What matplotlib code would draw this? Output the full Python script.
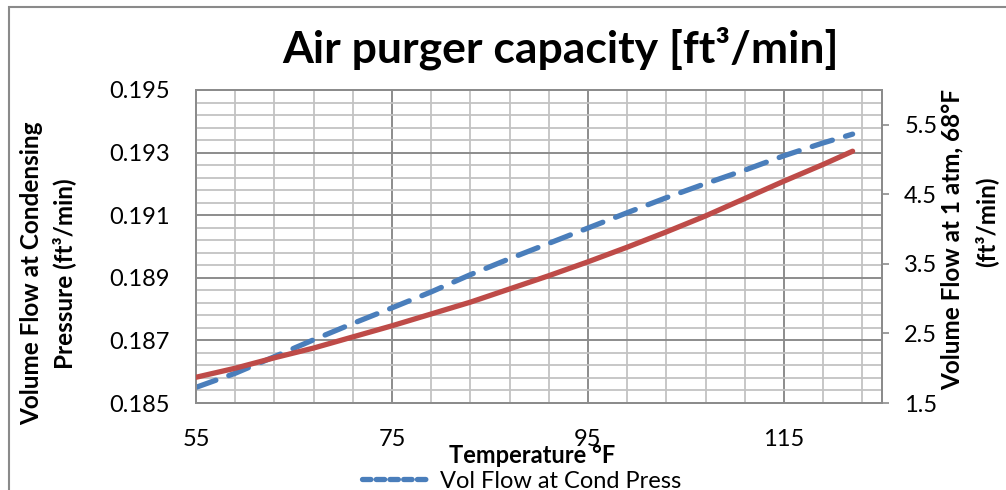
import matplotlib
matplotlib.use("Agg")
import matplotlib.pyplot as plt
from matplotlib.lines import Line2D
from matplotlib.patches import Rectangle

plt.rcParams["font.family"] = ["Lato", "DejaVu Sans"]

# data
temps = [55, 59, 63, 67, 71, 75, 79, 83, 87, 91, 95, 99, 103, 107, 111, 115, 119, 122]
cond_flow = [0.18550, 0.18595, 0.18648, 0.18702, 0.18754, 0.18804, 0.18855, 0.18910,
             0.18961, 0.19010, 0.19059, 0.19108, 0.19156, 0.19201, 0.19244, 0.19290,
             0.19331, 0.19359]
atm_flow = [1.87, 2.00, 2.15, 2.29, 2.45, 2.61, 2.78, 2.95, 3.14, 3.33, 3.53, 3.74,
            3.96, 4.19, 4.44, 4.69, 4.93, 5.12]

x_ticks = [55, 75, 95, 115]
left_ticks = [0.185, 0.187, 0.189, 0.191, 0.193, 0.195]
right_ticks = [1.5, 2.5, 3.5, 4.5, 5.5]

BLUE = "#4a7ebb"
RED = "#be4b48"
MAJOR = "#8c8c8c"
MINOR = "#c3c3c3"

fig = plt.figure(figsize=(10.06, 4.9), dpi=100)
W, H = 1006, 490

# outer chart border (cut off at right/bottom)
fig.patches.append(Rectangle((9 / W, -0.1), 1.2, (490 - 7) / H + 0.1,
                             transform=fig.transFigure, fill=False,
                             edgecolor="#8a8a8a", lw=1.5))

ax = fig.add_axes([196 / W, (490 - 403) / H, (882 - 196) / W, (403 - 90) / H])
ax.set_xlim(55, 125)
ax.set_ylim(0.185, 0.195)

ax.set_xticks(x_ticks)
ax.set_xticks(range(55, 126, 4), minor=True)
ax.set_yticks(left_ticks)
ax.set_yticks([0.185 + 0.0004 * i for i in range(26)], minor=True)
ax.set_yticklabels([f"{v:.3f}" for v in left_ticks])

ax.grid(which="minor", color=MINOR, lw=1.3, zorder=0)
ax.grid(which="major", color=MAJOR, lw=1.4, zorder=0)
ax.set_axisbelow(True)
ax.tick_params(which="both", length=0)
ax.tick_params(axis="x", pad=19, labelsize=17)
ax.tick_params(axis="y", pad=19, labelsize=17)
for s in ax.spines.values():
    s.set_color(MAJOR)
    s.set_linewidth(1.4)

ax.plot(temps, cond_flow, color=BLUE, lw=3.8, dashes=(4.0, 2.6),
        dash_capstyle="round", zorder=3)

ax2 = ax.twinx()
ax2.set_ylim(1.5, 6.0)
ax2.set_yticks(right_ticks)
ax2.set_yticklabels([f"{v:.1f}" for v in right_ticks])
ax2.tick_params(axis="y", length=5, width=1.2, color=MAJOR, pad=11, labelsize=17)
for s in ax2.spines.values():
    s.set_color(MAJOR)
    s.set_linewidth(1.4)
ax2.plot(temps, atm_flow, color=RED, lw=3.8, solid_capstyle="round", zorder=3)

fig.text(560 / W, 1 - 48 / H, "Air purger capacity [ft³/min]", ha="center",
         va="center", fontsize=32, fontweight="bold")

fig.text(32 / W, 1 - 273 / H, "Volume Flow at Condensing", rotation=90,
         ha="center", va="center", fontsize=17.5, fontweight="bold")
fig.text(64 / W, 1 - 274 / H, "Pressure (ft³/min)", rotation=90,
         ha="center", va="center", fontsize=17.5, fontweight="bold")

fig.text(952 / W, 1 - 240 / H, "Volume Flow at 1 atm, 68°F", rotation=90,
         ha="center", va="center", fontsize=17.5, fontweight="bold")
fig.text(986 / W, 1 - 222 / H, "(ft³/min)", rotation=90,
         ha="center", va="center", fontsize=17.5, fontweight="bold")

fig.text(532 / W, 1 - 455 / H, "Temperature °F", ha="center", va="center",
         fontsize=17, fontweight="bold")

handle = Line2D([], [], color=BLUE, lw=3.8, dashes=(1.6, 1.0), dash_capstyle="round")
fig.legend([handle], ["Vol Flow at Cond Press"], loc="center",
           bbox_to_anchor=(522 / W, 1 - 481 / H), frameon=False, fontsize=17,
           handlelength=2.8, handletextpad=0.5, borderpad=0)

fig.savefig("out.png", dpi=100)
